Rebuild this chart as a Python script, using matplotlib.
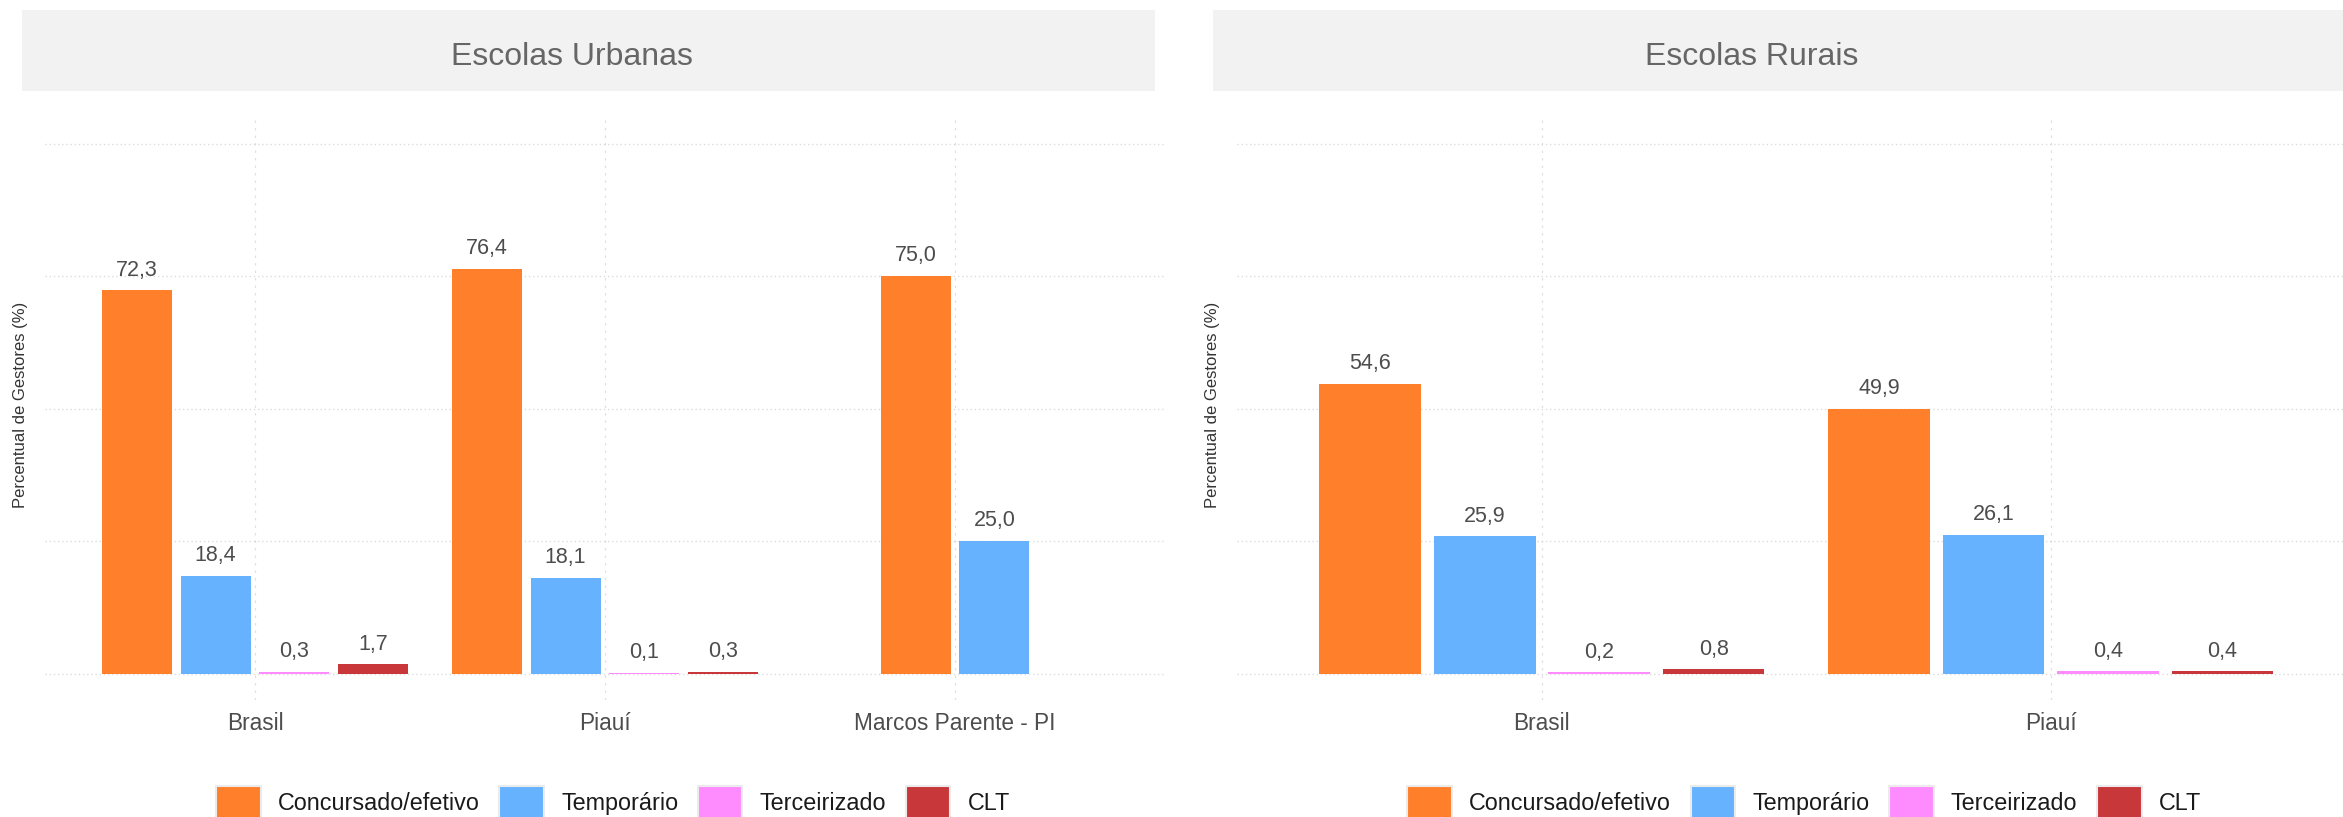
import matplotlib
matplotlib.use("Agg")
import matplotlib.pyplot as plt
from matplotlib.patches import Rectangle, Patch

plt.rcParams['font.family'] = ['Liberation Sans', 'DejaVu Sans']

# data
series = ["Concursado/efetivo", "Temporário", "Terceirizado", "CLT"]
colors = ["#FF7F2A", "#66B2FF", "#FF8CFF", "#C8373A"]

urb_cats = ["Brasil", "Piauí", "Marcos Parente - PI"]
urb_concursado = [72.3, 76.4, 75.0]
urb_temporario = [18.4, 18.1, 25.0]
urb_terceirizado = [0.3, 0.1, None]
urb_clt = [1.7, 0.3, None]

rur_cats = ["Brasil", "Piauí"]
rur_concursado = [54.6, 49.9]
rur_temporario = [25.9, 26.1]
rur_terceirizado = [0.2, 0.4]
rur_clt = [0.8, 0.4]

W, H = 2343, 817
fig = plt.figure(figsize=(W / 100, H / 100), dpi=100)


def fx(px):
    return px / W


def fy(py):
    return 1 - py / H


def fmt(v):
    return f"{v:.1f}".replace(".", ",")


def draw_panel(left_px, right_px, cats, cols, title, title_cx, strip_l, strip_r, ylab_x):
    ax = fig.add_axes([fx(left_px), fy(700), fx(right_px - left_px), (700 - 117) / H])
    n = len(cats)
    ax.set_xlim(-0.6, n - 1 + 0.6)
    ax.set_ylim(-5, 105)
    for ci in range(n):
        vals = [(s, c[ci]) for s, c in enumerate(cols) if c[ci] is not None]
        k = len(vals)
        for j, (s, v) in enumerate(vals):
            x = ci + (j - (k - 1) / 2) * 0.225
            ax.bar(x, v, width=0.2, color=colors[s], zorder=3)
            ax.annotate(fmt(v), (x, v), xytext=(0, 7), textcoords="offset points",
                        ha="center", va="bottom", fontsize=15.5, color="#4D4D4D")
    ax.set_xticks(range(n))
    ax.set_xticklabels(cats, fontsize=16.3, color="#4D4D4D")
    ax.set_yticks([0, 25, 50, 75, 100])
    ax.set_yticklabels([])
    ax.tick_params(length=0, pad=9)
    ax.grid(axis="y", color="#DCDCDC", linestyle=(0, (1, 2)), linewidth=1.0, zorder=0)
    ax.grid(axis="x", color="#E0E0E0", linestyle=(0, (2, 4)), linewidth=0.9, zorder=0)
    for sp in ax.spines.values():
        sp.set_visible(False)

    fig.patches.append(Rectangle((fx(strip_l), fy(91)), fx(strip_r - strip_l), (91 - 10) / H,
                                 transform=fig.transFigure, facecolor="#F2F2F2",
                                 edgecolor="none", zorder=0))
    fig.text(fx(title_cx), fy(57), title, ha="center", va="center", fontsize=23,
             color="#666666")
    fig.text(fx(ylab_x), fy(405), "Percentual de Gestores (%)", rotation=90,
             ha="center", va="center", fontsize=12, color="#333333")

    handles = [Patch(facecolor=c, edgecolor="#EBEBEB", linewidth=1.5) for c in colors]
    fig.legend(handles, series, loc="center", ncol=4,
               bbox_to_anchor=(fx((left_px + right_px) / 2 + 8), fy(803)),
               frameon=False, fontsize=16.8, handlelength=1.9, handleheight=1.9,
               handletextpad=0.74, columnspacing=0.85, borderpad=0,
               labelcolor="#1A1A1A")
    return ax


draw_panel(45, 1165, urb_cats,
           [urb_concursado, urb_temporario, urb_terceirizado, urb_clt],
           "Escolas Urbanas", 572, 22, 1155, 21)
draw_panel(1236.6, 2356, rur_cats,
           [rur_concursado, rur_temporario, rur_terceirizado, rur_clt],
           "Escolas Rurais", 1752, 1213, 2360, 1212)

fig.savefig("out.png", dpi=100)
